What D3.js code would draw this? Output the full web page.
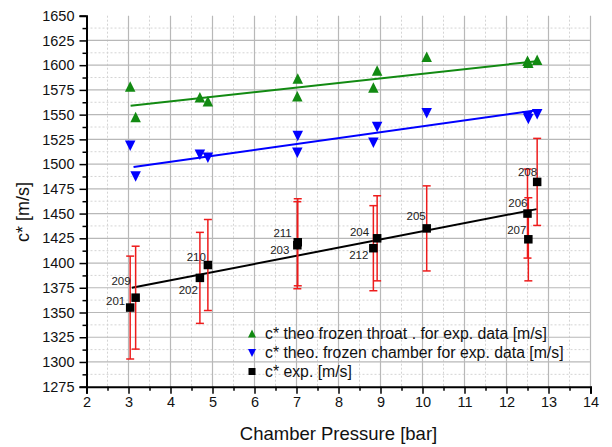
<!DOCTYPE html>
<html>
<head>
<meta charset="utf-8">
<script src="https://cdn.jsdelivr.net/npm/d3@7"></script>
<style>
  body { margin: 0; background: #fff; }
  text { font-family: "Liberation Sans", Arial, sans-serif; }
</style>
</head>
<body>
<div id="chart"></div>
<script>
// ---------- data ----------
var runs     = ["201", "209", "202", "210", "203", "211", "204", "212", "205", "206", "207", "208"];
var pressure = [3.04, 3.17, 4.70, 4.89, 7.02, 7.03, 8.92, 8.83, 10.10, 12.50, 12.52, 12.73];
var cExp     = [1355, 1365, 1385, 1398, 1418, 1421, 1425, 1415, 1435, 1450, 1424, 1482];
var cExpErr  = [52, 52, 46, 46, 44, 44, 43, 43, 43, 45, 42, 44];
var cThroat  = [1578, 1547, 1567, 1563, 1568, 1586, 1594, 1577, 1608, 1604, 1602, 1605];
var cChamber = [1519, 1488, 1510, 1507, 1512, 1529, 1538, 1522, 1552, 1549, 1546, 1551];

// linear fit lines (end points)
var fitThroatX  = [3.05, 12.72], fitThroatY  = [1559, 1604];
var fitChamberX = [3.12, 12.72], fitChamberY = [1497, 1554.5];
var fitExpX     = [3.08, 12.72], fitExpY     = [1375, 1454.5];

var xTicks = d3.range(2, 15, 1);
var yTicks = d3.range(1275, 1651, 25);

var legendLabels = [
  "c* theo frozen throat . for exp. data [m/s]",
  "c* theo. frozen chamber for exp. data [m/s]",
  "c* exp. [m/s]"
];

// ---------- layout ----------
var W = 612, H = 447;
var plotLeft = 86.5, plotRight = 590.5, plotTop = 15.7, plotBottom = 386.7;

var svg = d3.select("#chart").append("svg")
  .attr("width", W).attr("height", H);

var x = d3.scaleLinear().domain([2, 14]).range([plotLeft, plotRight]);
var y = d3.scaleLinear().domain([1275, 1650]).range([plotBottom, plotTop]);

// ---------- grid ----------
var grid = svg.append("g");
var minorX = d3.range(2.5, 14, 1);
var minorY = d3.range(1287.5, 1650, 25);

grid.selectAll(".mx").data(minorX).enter().append("line")
  .attr("x1", d => x(d)).attr("x2", d => x(d))
  .attr("y1", plotTop).attr("y2", plotBottom)
  .attr("stroke", "#d4d4d4").attr("stroke-dasharray", "2,2");
grid.selectAll(".my").data(minorY).enter().append("line")
  .attr("x1", plotLeft).attr("x2", plotRight)
  .attr("y1", d => y(d)).attr("y2", d => y(d))
  .attr("stroke", "#d4d4d4").attr("stroke-dasharray", "2,2");
grid.selectAll(".gx").data(xTicks.slice(1)).enter().append("line")
  .attr("x1", d => x(d)).attr("x2", d => x(d))
  .attr("y1", plotTop).attr("y2", plotBottom)
  .attr("stroke", "#b8b8b8").attr("stroke-width", 1.2);
grid.selectAll(".gy").data(yTicks.slice(1, -1)).enter().append("line")
  .attr("x1", plotLeft).attr("x2", plotRight)
  .attr("y1", d => y(d)).attr("y2", d => y(d))
  .attr("stroke", "#b8b8b8").attr("stroke-width", 1.2);

// ---------- axes ----------
var xAxis = svg.append("g")
  .attr("transform", "translate(0," + plotBottom + ")")
  .call(d3.axisBottom(x).tickValues(xTicks).tickSize(7).tickPadding(3).tickFormat(d3.format("d")));
var xMinor = svg.append("g")
  .attr("transform", "translate(0," + plotBottom + ")")
  .call(d3.axisBottom(x).tickValues(minorX).tickSize(4).tickFormat(""));

var yAxis = svg.append("g")
  .attr("transform", "translate(" + plotLeft + ",0)")
  .call(d3.axisLeft(y).tickValues(yTicks).tickSize(7).tickPadding(5).tickFormat(d3.format("d")));
var yMinor = svg.append("g")
  .attr("transform", "translate(" + plotLeft + ",0)")
  .call(d3.axisLeft(y).tickValues(minorY).tickSize(4).tickFormat(""));

[xAxis, xMinor, yAxis, yMinor].forEach(function(g) {
  g.select(".domain").attr("stroke", "#000").attr("stroke-width", 2);
  g.selectAll(".tick line").attr("stroke", "#000").attr("stroke-width", 1.5);
  g.selectAll("text").style("font-size", "14.5px")
    .style("font-family", "'Liberation Sans', Arial, sans-serif").attr("fill", "#111");
});
xMinor.select(".domain").remove();
yMinor.select(".domain").remove();

// axis titles
svg.append("text")
  .attr("x", (plotLeft + plotRight) / 2).attr("y", 440)
  .attr("text-anchor", "middle")
  .style("font-size", "18.5px").attr("fill", "#111")
  .text("Chamber Pressure [bar]");
svg.append("text")
  .attr("transform", "translate(29,212) rotate(-90)")
  .attr("text-anchor", "middle")
  .style("font-size", "18px").attr("fill", "#111")
  .text("c* [m/s]");

// ---------- fit lines ----------
function fitLine(xs, ys, color) {
  svg.append("line")
    .attr("x1", x(xs[0])).attr("y1", y(ys[0]))
    .attr("x2", x(xs[1])).attr("y2", y(ys[1]))
    .attr("stroke", color).attr("stroke-width", 2);
}
fitLine(fitThroatX, fitThroatY, "#128a12");
fitLine(fitChamberX, fitChamberY, "#0000ff");
fitLine(fitExpX, fitExpY, "#000");

// ---------- error bars ----------
var errG = svg.append("g").attr("stroke", "#ee1c1c").attr("stroke-width", 1.5);
runs.forEach(function(r, i) {
  var px = x(pressure[i]);
  var hi = y(cExp[i] + cExpErr[i]), lo = y(cExp[i] - cExpErr[i]);
  errG.append("line").attr("x1", px).attr("x2", px).attr("y1", hi).attr("y2", lo);
  errG.append("line").attr("x1", px - 4).attr("x2", px + 4).attr("y1", hi).attr("y2", hi);
  errG.append("line").attr("x1", px - 4).attr("x2", px + 4).attr("y1", lo).attr("y2", lo);
});

// ---------- markers ----------
function upTri(cx, cy, s) {
  return "M" + cx + "," + (cy - s * 0.55) + "L" + (cx + s / 2) + "," + (cy + s * 0.45) +
    "L" + (cx - s / 2) + "," + (cy + s * 0.45) + "Z";
}
function downTri(cx, cy, s) {
  return "M" + cx + "," + (cy + s * 0.55) + "L" + (cx + s / 2) + "," + (cy - s * 0.45) +
    "L" + (cx - s / 2) + "," + (cy - s * 0.45) + "Z";
}

svg.append("g").selectAll("path").data(cThroat).enter().append("path")
  .attr("d", (d, i) => upTri(x(pressure[i]), y(d), 10.5))
  .attr("fill", "#128a12");
svg.append("g").selectAll("path").data(cChamber).enter().append("path")
  .attr("d", (d, i) => downTri(x(pressure[i]), y(d), 10.5))
  .attr("fill", "#0000ff");
svg.append("g").selectAll("rect").data(cExp).enter().append("rect")
  .attr("x", (d, i) => x(pressure[i]) - 4.25).attr("y", d => y(d) - 4.25)
  .attr("width", 8.5).attr("height", 8.5)
  .attr("fill", "#000");

// run labels (offset from point: [dx to text end, dy to text middle])
var labelOffset = {
  "201": [-5, -7], "209": [-5, -17], "202": [-2, 12], "210": [-2, -8],
  "211": [-6, -9], "203": [-8, 5], "204": [-8, -6], "212": [-5, 7],
  "205": [-1, -12], "206": [0, -11], "207": [-2, -9], "208": [0, -10]
};
svg.append("g").selectAll("text").data(runs).enter().append("text")
  .attr("x", (d, i) => x(pressure[i]) + labelOffset[d][0])
  .attr("y", (d, i) => y(cExp[i]) + labelOffset[d][1])
  .attr("dy", "0.35em")
  .attr("text-anchor", "end")
  .style("font-size", "11.5px").attr("fill", "#222")
  .text(d => d);

// ---------- legend ----------
var legendRows = [334, 352.5, 371.5];
var lg = svg.append("g");
lg.append("path").attr("d", upTri(252, legendRows[0], 8)).attr("fill", "#128a12");
lg.append("path").attr("d", downTri(252, legendRows[1], 8)).attr("fill", "#0000ff");
lg.append("rect").attr("x", 248.5).attr("y", legendRows[2] - 3.5)
  .attr("width", 7).attr("height", 7).attr("fill", "#000");
lg.selectAll("text").data(legendLabels).enter().append("text")
  .attr("x", 265).attr("y", (d, i) => legendRows[i])
  .attr("dy", "0.33em")
  .style("font-size", "15.8px").attr("fill", "#111")
  .text(d => d);
</script>
</body>
</html>
